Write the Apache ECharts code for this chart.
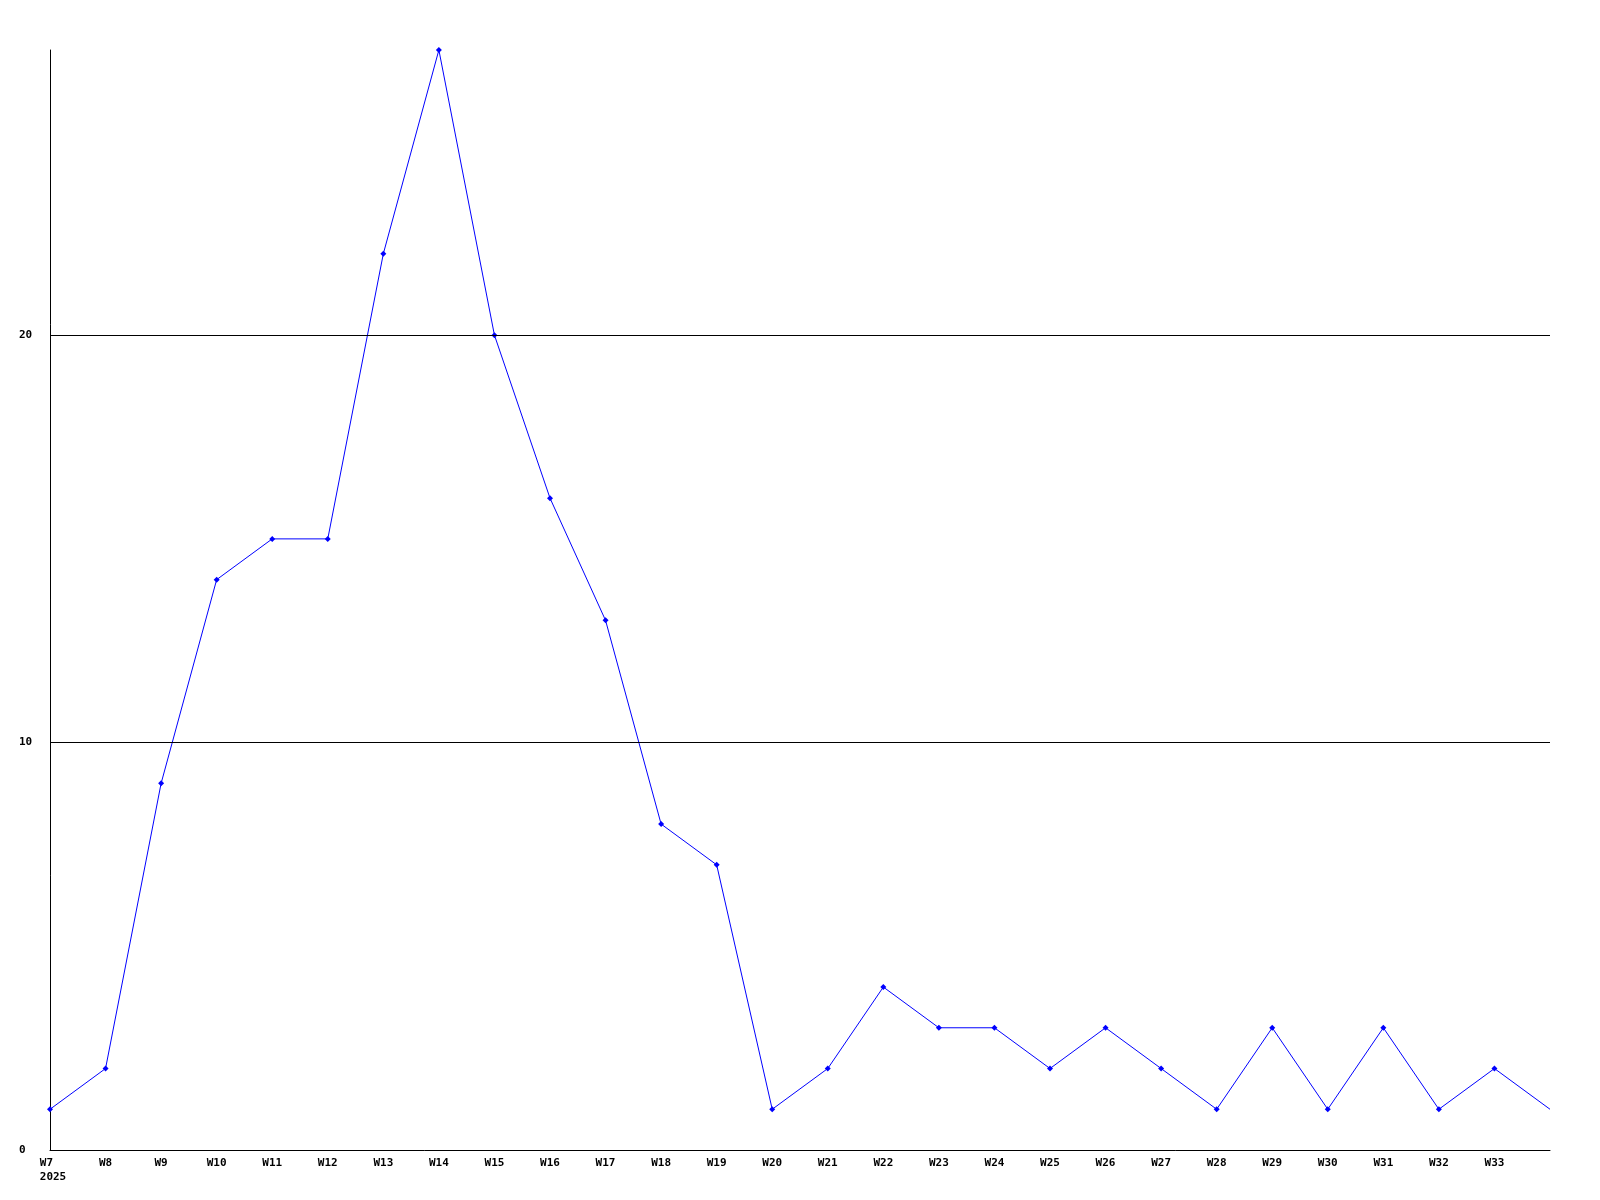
<!DOCTYPE html>
<html>
<head>
<meta charset="utf-8">
<script src="https://cdn.jsdelivr.net/npm/echarts@6/dist/echarts.min.js"></script>
<style>html,body{margin:0;padding:0;background:#fff;}#c{width:1600px;height:1200px;}</style>
</head>
<body>
<div id="c"></div>
<script>
const weeks = ['W7','W8','W9','W10','W11','W12','W13','W14','W15','W16','W17','W18','W19','W20','W21','W22','W23','W24','W25','W26','W27','W28','W29','W30','W31','W32','W33','W34'];
const values = [1,2,9,14,15,15,22,27,20,16,13,8,7,1,2,4,3,3,2,3,2,1,3,1,3,1,2,1];
const yearLabel = '2025';
const gridValues = [10, 20];

const chart = echarts.init(document.getElementById('c'), null, {renderer: 'canvas'});
const font = 'DejaVu Sans Mono';
const data = values.map((v, i) => i === values.length - 1 ? {value: v, symbol: 'none'} : v);
chart.setOption({
  animation: false,
  backgroundColor: '#ffffff',
  grid: {left: 50, right: 50, top: 50, bottom: 50, containLabel: false},
  xAxis: {
    type: 'category',
    data: weeks,
    boundaryGap: false,
    axisLine: {show: true, lineStyle: {color: '#000', width: 1}},
    axisTick: {show: false},
    splitLine: {show: false},
    axisLabel: {
      interval: 0,
      margin: 6,
      color: '#000',
      fontFamily: font,
      fontWeight: 'bold',
      fontSize: 11,
      lineHeight: 14,
      formatter: function (v, i) {
        if (i === weeks.length - 1) return '';
        if (i === 0) return '{a|' + v + '}\n{a|' + yearLabel + '}';
        return v;
      },
      rich: {a: {align: 'left', padding: [0, 0, 0, 6], fontFamily: font, fontWeight: 'bold', fontSize: 11, color: '#000', lineHeight: 14}}
    }
  },
  yAxis: {
    type: 'value',
    min: 0,
    max: 27,
    interval: 10,
    axisLine: {show: true, lineStyle: {color: '#000', width: 1}},
    axisTick: {show: false},
    splitLine: {show: false},
    axisLabel: {
      align: 'left',
      margin: 31,
      color: '#000',
      fontFamily: font,
      fontWeight: 'bold',
      fontSize: 11,
      formatter: function (v) { return (v % 10 === 0) ? String(v) : ''; }
    }
  },
  series: [{
    type: 'line',
    data: data,
    symbol: 'diamond',
    symbolSize: 6,
    showAllSymbol: true,
    lineStyle: {color: '#0000ff', width: 1},
    itemStyle: {color: '#0000ff'},
    markLine: {
      silent: true,
      symbol: 'none',
      label: {show: false},
      lineStyle: {color: '#000', width: 1, type: 'solid'},
      data: gridValues.map(v => ({yAxis: v}))
    },
    z: 3
  }]
});
</script>
</body>
</html>
